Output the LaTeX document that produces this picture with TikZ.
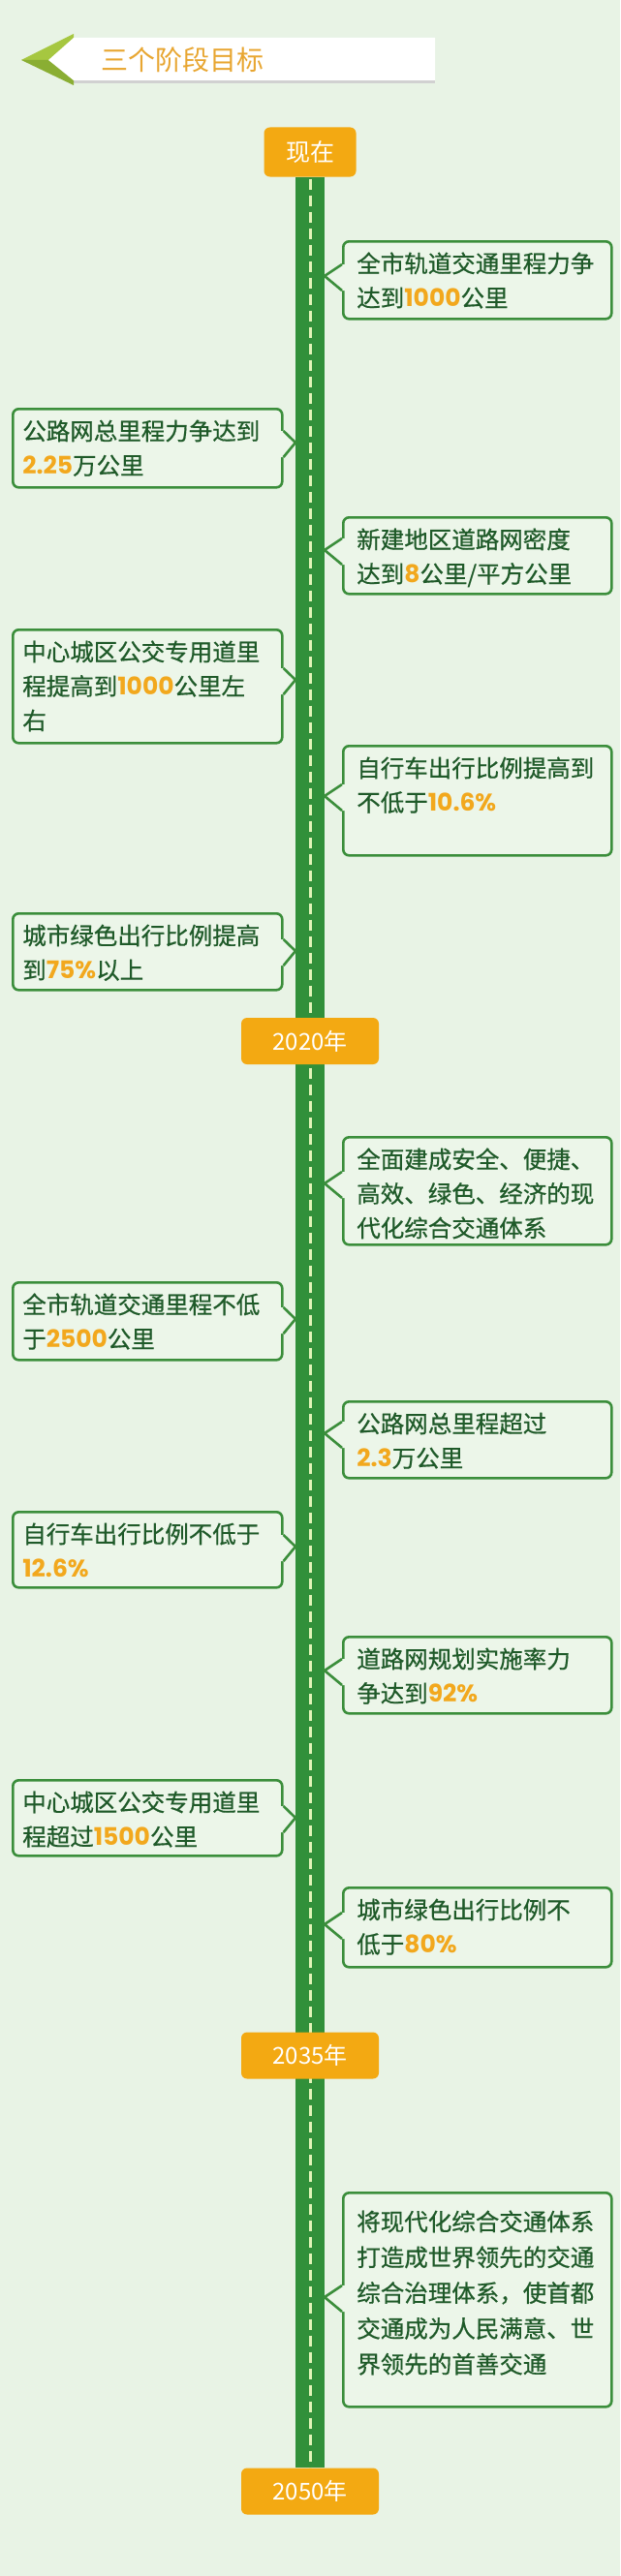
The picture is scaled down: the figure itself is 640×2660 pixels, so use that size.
\documentclass[tikz,border=0pt]{standalone}
\usepackage{fontspec}
\setmainfont{Noto Sans CJK SC}
\newfontfamily\goalfont[FakeBold=0.6]{Noto Sans CJK SC}
\newfontfamily\numfont{Poppins}
\usepackage{tikz}
\usetikzlibrary{positioning,calc,backgrounds}

\definecolor{bgmint}{HTML}{E8F3E5}
\definecolor{boxfill}{HTML}{ECF6E9}
\definecolor{boxline}{HTML}{3B8E3B}
\definecolor{textgreen}{HTML}{1F5A29}
\definecolor{numorange}{HTML}{F2A81D}
\definecolor{yearorange}{HTML}{F3A912}
\definecolor{roadgreen}{HTML}{31903A}
\definecolor{roaddash}{HTML}{E2F4B8}
\definecolor{chevlight}{HTML}{A6C740}
\definecolor{chevdark}{HTML}{8AAE33}
\definecolor{titleorange}{HTML}{E8A631}

\newcommand\hnum[1]{{\numfont\bfseries\fontsize{25}{25}\selectfont\color{numorange}#1}}
% pointer of a box on the right / on the left of the road
\newcommand\tipR[2]{%
  \fill[boxfill] (#2) -- ($(#1.west |- #2)+(0,-12)$) -- ($(#1.west |- #2)+(4,-12)$)
    -- ($(#1.west |- #2)+(4,15)$) -- ($(#1.west |- #2)+(0,15)$) -- cycle;
  \draw[tipline] ($(#1.west |- #2)+(0,-12)$) -- (#2) -- ($(#1.west |- #2)+(0,15)$);}
\newcommand\tipL[2]{%
  \fill[boxfill] (#2) -- ($(#1.east |- #2)+(0,-12)$) -- ($(#1.east |- #2)+(-4,-12)$)
    -- ($(#1.east |- #2)+(-4,15)$) -- ($(#1.east |- #2)+(0,15)$) -- cycle;
  \draw[tipline] ($(#1.east |- #2)+(0,-12)$) -- (#2) -- ($(#1.east |- #2)+(0,15)$);}

\tikzset{
  goal/.style={draw=boxline, line width=2.6pt, fill=boxfill, rounded corners=6pt,
    text=textgreen, align=left, text height=20pt, inner ysep=12pt,
    font=\goalfont\fontsize{24.5}{35.5}\selectfont, anchor=north west},
  goalR/.style={goal, text width=249pt, inner xsep=14pt},
  goalL/.style={goal, text width=258pt, inner xsep=10pt},
  yearbox/.style={fill=yearorange, rounded corners=6pt, text=white, inner sep=0pt,
    minimum width=142pt, minimum height=48pt, font=\fontsize{24}{24}\selectfont},
  road/.style={draw=roadgreen, line width=30pt},
  roadline/.style={draw=roaddash, line width=3pt, dash pattern=on 11pt off 6pt, dash phase=-2pt},
  tipline/.style={draw=boxline, line width=2.6pt, line join=round}
}

\begin{document}
\begin{tikzpicture}[x=1pt,y=-1pt]

% title banner
\fill[black!18] (75,43) rectangle (449,86);
\fill[chevlight] (76,35) -- (22,62) -- (76,62) -- cycle;
\fill[chevdark] (22,62) -- (76,88) -- (76,62) -- cycle;
\fill[white] (50,62) -- (76,39) -- (449,39) -- (449,83) -- (76,83) -- cycle;
\node[anchor=west, text=titleorange, font=\fontsize{28}{28}\selectfont] (title) at (101,62) {三个阶段目标};

\node[yearbox, minimum width=95pt, minimum height=51pt, font=\fontsize{25}{25}\selectfont]
  (yr-now) at (320,157) {现在};
\node[yearbox] (yr-2020) at (320,1075) {2020年};
\node[yearbox] (yr-2035) at (320,2122.5) {2035年};
\node[yearbox] (yr-2050) at (320,2572.5) {2050年};

\begin{scope}[on background layer]
  \fill[bgmint] (0,0) rectangle (640,2660);
  \draw[road] (yr-now.south) -- (yr-2050.north);
  \draw[roadline] (yr-now.south) -- (yr-2050.north);
\end{scope}

\coordinate (tip-r1) at (335,285);
\coordinate (tip-l2) at (305,457);
\coordinate (tip-r3) at (335,568);
\coordinate (tip-l4) at (305,702);
\coordinate (tip-r5) at (335,822);
\coordinate (tip-l6) at (305,982);
\coordinate (tip-r7) at (335,1222);
\coordinate (tip-l8) at (305,1362);
\coordinate (tip-r9) at (335,1480);
\coordinate (tip-l10) at (305,1597);
\coordinate (tip-r11) at (335,1725);
\coordinate (tip-l12) at (305,1877);
\coordinate (tip-r13) at (335,1987);
\coordinate (tip-r14) at (335,2372);

% now -> 2020
\node[goalR, text depth=36pt] (goal-r1) at (353,248)
  {全市轨道交通里程力争\\达到\hnum{1000}公里};
\node[goalL, text depth=37pt] (goal-l2) at (12,421)
  {公路网总里程力争达到\\\hnum{2.25}万公里};
\node[goalR, text depth=35pt] (goal-r3) at (353,533)
  {新建地区道路网密度\\达到\hnum{8}公里/平方公里};
\node[goalL, text depth=73pt] (goal-l4) at (12,649)
  {中心城区公交专用道里\\程提高到\hnum{1000}公里左\\右};
\node[goalR, text depth=69pt] (goal-r5) at (353,769)
  {自行车出行比例提高到\\不低于\hnum{10.6\%}};
\node[goalL, text depth=35pt] (goal-l6) at (12,942)
  {城市绿色出行比例提高\\到\hnum{75\%}以上};

% 2020 -> 2035
\node[goalR, text depth=67pt] (goal-r7) at (353,1173)
  {全面建成安全、便捷、\\高效、绿色、经济的现\\代化综合交通体系};
\node[goalL, text depth=36pt] (goal-l8) at (12,1323)
  {全市轨道交通里程不低\\于\hnum{2500}公里};
\node[goalR, text depth=35pt] (goal-r9) at (353,1446)
  {公路网总里程超过\\\hnum{2.3}万公里};
\node[goalL, text depth=34pt] (goal-l10) at (12,1560)
  {自行车出行比例不低于\\\hnum{12.6\%}};
\node[goalR, text depth=35pt] (goal-r11) at (353,1689)
  {道路网规划实施率力\\争达到\hnum{92\%}};
\node[goalL, text depth=34pt] (goal-l12) at (12,1837)
  {中心城区公交专用道里\\程超过\hnum{1500}公里};
\node[goalR, text depth=38pt] (goal-r13) at (353,1948)
  {城市绿色出行比例不\\低于\hnum{80\%}};

% 2035 -> 2050
\node[goalR, text height=27pt, text depth=170pt,
      font=\goalfont\fontsize{24.5}{36.8}\selectfont] (goal-r14) at (353,2263)
  {将现代化综合交通体系\\打造成世界领先的交通\\综合治理体系，使首都\\交通成为人民满意、世\\界领先的首善交通};

\tipR{goal-r1}{tip-r1}
\tipL{goal-l2}{tip-l2}
\tipR{goal-r3}{tip-r3}
\tipL{goal-l4}{tip-l4}
\tipR{goal-r5}{tip-r5}
\tipL{goal-l6}{tip-l6}
\tipR{goal-r7}{tip-r7}
\tipL{goal-l8}{tip-l8}
\tipR{goal-r9}{tip-r9}
\tipL{goal-l10}{tip-l10}
\tipR{goal-r11}{tip-r11}
\tipL{goal-l12}{tip-l12}
\tipR{goal-r13}{tip-r13}
\tipR{goal-r14}{tip-r14}

\end{tikzpicture}
\end{document}
